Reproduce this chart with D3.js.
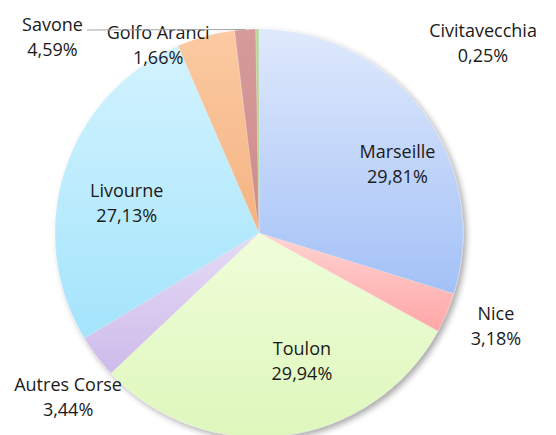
<!DOCTYPE html>
<html><head><meta charset="utf-8">
<script src="https://cdn.jsdelivr.net/npm/d3@7"></script>
<style>body{margin:0;background:#fff}svg{display:block}</style>
</head><body>
<svg id="c" width="556" height="435"></svg>
<script>
const categories = ["Marseille","Nice","Toulon","Autres Corse","Livourne","Savone","Golfo Aranci","Civitavecchia"];
const values = [29.81,3.18,29.94,3.44,27.13,4.59,1.66,0.25];
const labels = ["29,81%","3,18%","29,94%","3,44%","27,13%","4,59%","1,66%","0,25%"];
const colorsTop = ["#dfe9fc","#ffd3d3","#effdd9","#e6dbf6","#d3f3fe","#fbcaa2","#d69a9a","#b9d99e"];
const colorsBottom = ["#a3c1f7","#ffa6a6","#def7bc","#cdbbea","#a4e4fc","#f5b382","#cf8c8c","#a8cf8a"];

const W=556,H=435,cx=259,cy=233,R=204;
const svg=d3.select("#c");
const defs=svg.append("defs");
const f=defs.append("filter").attr("id","sh").attr("x","-20%").attr("y","-20%").attr("width","150%").attr("height","150%");
f.append("feGaussianBlur").attr("in","SourceAlpha").attr("stdDeviation",3).attr("result","b");
f.append("feOffset").attr("in","b").attr("dx",3).attr("dy",3).attr("result","o");
f.append("feComponentTransfer").attr("in","o").attr("result","o2").append("feFuncA").attr("type","linear").attr("slope",0.35);
const m=f.append("feMerge");m.append("feMergeNode").attr("in","o2");m.append("feMergeNode").attr("in","SourceGraphic");

categories.forEach((c,i)=>{
  const g=defs.append("linearGradient").attr("id","g"+i).attr("x1",0).attr("y1",0).attr("x2",0).attr("y2",1);
  g.append("stop").attr("offset","0%").attr("stop-color",colorsTop[i]);
  g.append("stop").attr("offset","100%").attr("stop-color",colorsBottom[i]);
});

const pie=d3.pie().sort(null).value(d=>d)(values);
const arc=d3.arc().innerRadius(0).outerRadius(R);
const G=svg.append("g").attr("transform",`translate(${cx},${cy})`);
const pg=G.append("g").attr("filter","url(#sh)");
pg.selectAll("path").data(pie).join("path")
  .attr("d",arc).attr("fill",(d,i)=>`url(#g${i})`)
  .attr("stroke","rgba(255,255,255,0.35)").attr("stroke-width",0.5);

// label layout (polar: angle in degrees clockwise from top, radius) - anchor is midpoint between the two baselines
const labelLayout={
  "Marseille":[65.7,151.9],"Nice":[112.8,257],"Toulon":[162.3,141.2],"Autres Corse":[228.3,255.7],
  "Livourne":[279.9,134.3],"Savone":[312.6,280.6],"Golfo Aranci":[331,208.1],"Civitavecchia":[50.6,289.9]
};
function pos(name){const [a,r]=labelLayout[name];const t=a*Math.PI/180;return [r*Math.sin(t),-r*Math.cos(t)];}

const lineGap=25;
const lab=G.append("g").attr("font-family","'Open Sans', Lato, sans-serif").attr("font-size",18).attr("fill","#1a1a1a").attr("text-anchor","middle");
const firstLines={};
categories.forEach((c,i)=>{
  const [x,y]=pos(c);
  firstLines[c]=lab.append("text").attr("x",x).attr("y",y-lineGap/2).text(c);
  lab.append("text").attr("x",x).attr("y",y+lineGap/2).text(labels[i]);
});

// leader line Savone label -> Golfo Aranci slice
const gi=categories.indexOf("Golfo Aranci");
const ga=(pie[gi].startAngle+pie[gi].endAngle)/2;
const sp=pos("Savone");
const sw=firstLines["Savone"].node().getComputedTextLength();
const ex=R*Math.sin(ga), ey=-R*Math.cos(ga);
G.append("path").attr("d",`M${sp[0]+sw/2+4},${ey+0.5}L${ex},${ey}`)
  .attr("fill","none").attr("stroke","#a6a6a6").attr("stroke-width",1.1);
</script>
</body></html>
